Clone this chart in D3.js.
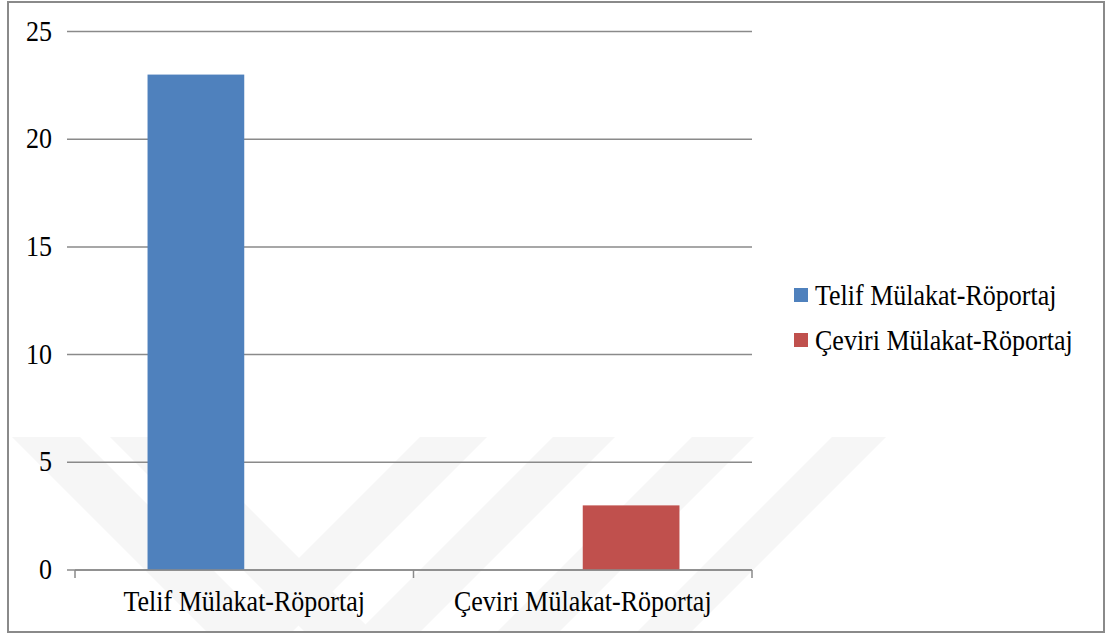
<!DOCTYPE html>
<html>
<head>
<meta charset="utf-8">
<script src="https://cdn.jsdelivr.net/npm/d3@7"></script>
<style>
  html, body { margin: 0; padding: 0; background: #fff; }
  svg { display: block; }
</style>
</head>
<body>
<main></main>
<script>
// data
let categories = ['Telif Mülakat-Röportaj', 'Çeviri Mülakat-Röportaj']
let seriesNames = ['Telif Mülakat-Röportaj', 'Çeviri Mülakat-Röportaj']
let telifValues = [23, 0]
let ceviriValues = [0, 3]
let yTicks = [0, 5, 10, 15, 20, 25]
let seriesColors = ['#4f81bd', '#c0504d']

let width = 1106
let height = 633
let fontSize = 26
let stretch = 1.1
let serif = '"Times New Roman", "Liberation Serif", Tinos, "DejaVu Serif", serif'

let svg = d3.select('main')
    .append('svg')
    .attr('width', width)
    .attr('height', height)

// faint watermark in the background (diagonal bands)
let wmTop = 437
let wmBottom = 631
let wmDrop = wmBottom - wmTop
let downBands = [[12, 80], [110, 178]]
let upBands = [[420, 487], [553, 615], [692, 754], [832, 886]]
let wm = svg.append('g').style('fill', '#f6f6f6')
downBands.forEach(b => {
    wm.append('polygon')
        .attr('points', [[b[0], wmTop], [b[1], wmTop], [b[1] + wmDrop, wmBottom], [b[0] + wmDrop, wmBottom]].join(' '))
})
upBands.forEach(b => {
    wm.append('polygon')
        .attr('points', [[b[0], wmTop], [b[1], wmTop], [b[1] - wmDrop, wmBottom], [b[0] - wmDrop, wmBottom]].join(' '))
})

// chart frame
svg.append('rect')
    .attr('x', 8)
    .attr('y', 2)
    .attr('width', 1096)
    .attr('height', 630)
    .style('fill', 'none')
    .style('stroke', '#8a8a8a')
    .style('stroke-width', 2)

// scales
let x0 = d3.scaleBand()
    .domain(categories)
    .range([75, 752])
    .paddingInner(0)
    .paddingOuter(0)

let x1 = d3.scaleBand()
    .domain(seriesNames)
    .range([0, x0.bandwidth()])
    .paddingInner(0)
    .paddingOuter(0.75)

let y = d3.scaleLinear()
    .domain([0, 25])
    .range([570, 31.5])

// gridlines
svg.append('g')
    .selectAll('line')
    .data(yTicks)
    .join('line')
    .attr('x1', 67)
    .attr('x2', 752)
    .attr('y1', d => y(d))
    .attr('y2', d => y(d))
    .style('stroke', '#8a8a8a')
    .style('stroke-width', 1.5)

// y tick labels
svg.append('g')
    .selectAll('text')
    .data(yTicks)
    .join('text')
    .attr('text-anchor', 'end')
    .attr('font-family', serif)
    .attr('font-size', fontSize)
    .attr('transform', d => `translate(52, ${y(d) + 9}) scale(1, ${stretch})`)
    .text(d => d)

// bars
let seriesValues = [telifValues, ceviriValues]
seriesNames.forEach((name, si) => {
    svg.append('g')
        .selectAll('rect')
        .data(seriesValues[si].map((v, ci) => ({cat: categories[ci], value: v})))
        .join('rect')
        .attr('x', d => x0(d.cat) + x1(name))
        .attr('width', x1.bandwidth())
        .attr('y', d => y(d.value))
        .attr('height', d => y(0) - y(d.value))
        .style('fill', seriesColors[si])
})

// x axis
let xAxis = d3.axisBottom(x0).tickSize(0).tickFormat('')
let xg = svg.append('g')
    .attr('transform', `translate(0, ${y(0)})`)
    .call(xAxis)
xg.select('.domain')
    .attr('d', `M75,0H752`)
    .style('stroke', '#8a8a8a')
    .style('stroke-width', 1.5)
let tickEdges = [x0(categories[0]), x0(categories[1]), x0(categories[1]) + x0.bandwidth()]
xg.selectAll('.edge')
    .data(tickEdges)
    .join('line')
    .attr('x1', d => d)
    .attr('x2', d => d)
    .attr('y1', 0)
    .attr('y2', 8)
    .style('stroke', '#8a8a8a')
    .style('stroke-width', 1.5)

svg.append('g')
    .selectAll('text')
    .data(categories)
    .join('text')
    .attr('text-anchor', 'middle')
    .attr('font-family', serif)
    .attr('font-size', fontSize)
    .attr('transform', d => `translate(${x0(d) + x0.bandwidth() / 2}, 611) scale(1, ${stretch})`)
    .text(d => d)

// legend
let legendRows = [295, 340]
let legend = svg.append('g')
seriesNames.forEach((name, i) => {
    legend.append('rect')
        .attr('x', 794)
        .attr('y', legendRows[i] - 7)
        .attr('width', 14)
        .attr('height', 14)
        .style('fill', seriesColors[i])
    legend.append('text')
        .attr('font-family', serif)
        .attr('font-size', fontSize)
        .attr('transform', `translate(815, ${legendRows[i] + 10}) scale(1, ${stretch})`)
        .text(name)
})
</script>
</body>
</html>
